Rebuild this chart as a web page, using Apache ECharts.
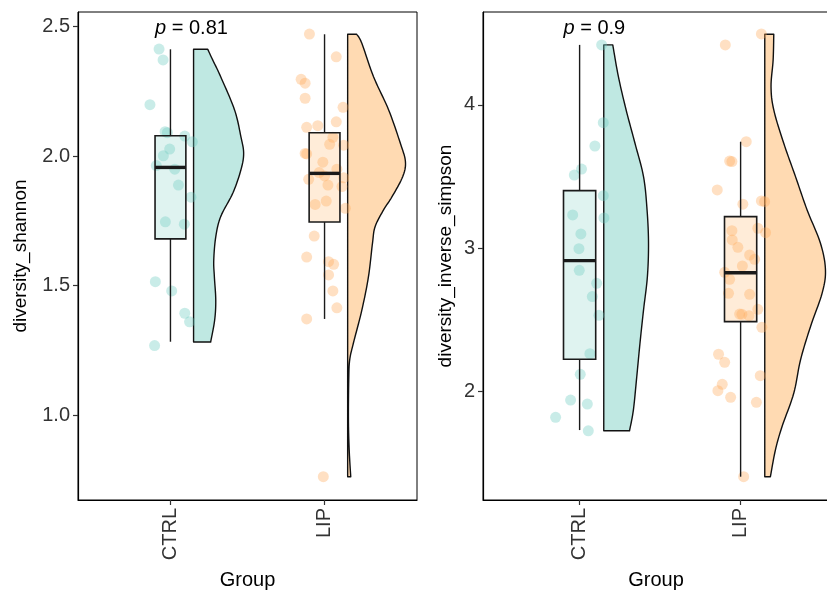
<!DOCTYPE html>
<html><head><meta charset="utf-8">
<script src="https://cdn.jsdelivr.net/npm/echarts@6/dist/echarts.min.js"></script>
<style>html,body{margin:0;padding:0;background:#fff}#c{width:827px;height:591px}</style>
</head><body><div id="c"></div>
<script>
// ---------------- data ----------------
const groups = ['CTRL', 'LIP'];
const metrics = ['diversity_shannon', 'diversity_inverse_simpson'];
const pValues = ['0.81', '0.9'];
const pLabelY = [2.494, 4.538];
const yTicks = [[1.0, 1.5, 2.0, 2.5], [2, 3, 4]];
const yRange = [[0.672, 2.556], [1.238, 4.650]];
const xRange = [[0.4, 2.6], [0.4, 2.549]];

// box stats: [lower whisker, q1, median, q3, upper whisker]
const shannonBoxCTRL = [1.283, 1.680, 1.956, 2.078, 2.412];
const shannonBoxLIP  = [1.371, 1.745, 1.933, 2.090, 2.470];
const simpsonBoxCTRL = [1.727, 2.222, 2.912, 3.401, 4.420];
const simpsonBoxLIP  = [1.401, 2.485, 2.827, 3.219, 3.743];

// half-violin density outline: [value, density width]
const shannonViolinCTRL = [[2.412,0.092],[2.371,0.124],[2.306,0.176],[2.178,0.266],[2.075,0.307],[2.010,0.325],[1.946,0.307],[1.857,0.255],[1.766,0.176],[1.688,0.144],[1.598,0.131],[1.534,0.135],[1.444,0.144],[1.367,0.137],[1.282,0.111]];
const shannonViolinLIP = [[2.470,0.059],[2.435,0.092],[2.306,0.168],[2.178,0.266],[2.049,0.342],[1.978,0.375],[1.920,0.357],[1.843,0.288],[1.792,0.233],[1.727,0.178],[1.663,0.161],[1.534,0.135],[1.405,0.092],[1.277,0.037],[1.212,0.013],[1.135,0.007],[0.981,0.005],[0.865,0.010],[0.762,0.020]];
const simpsonViolinCTRL = [[4.420,0.056],[4.198,0.091],[3.965,0.139],[3.732,0.194],[3.499,0.247],[3.266,0.269],[3.033,0.278],[2.799,0.271],[2.566,0.247],[2.334,0.225],[2.100,0.205],[1.867,0.184],[1.722,0.160]];
const simpsonViolinLIP = [[4.494,0.056],[4.315,0.052],[4.128,0.039],[3.965,0.056],[3.732,0.118],[3.499,0.191],[3.266,0.263],[3.033,0.346],[2.846,0.377],[2.683,0.356],[2.450,0.284],[2.217,0.222],[1.984,0.180],[1.750,0.107],[1.587,0.066],[1.401,0.035]];

// jittered samples: [jitter offset, value]
const shannonPointsCTRL = [[-0.074,2.413],[-0.048,2.371],[-0.133,2.198],[-0.035,2.094],[-0.020,2.090],[0.093,2.077],[0.142,2.055],[-0.005,2.027],[-0.046,2.001],[-0.092,1.963],[0.028,1.949],[0.052,1.888],[0.133,1.841],[-0.033,1.746],[0.090,1.737],[-0.098,1.515],[0.008,1.479],[0.093,1.393],[0.124,1.360],[-0.103,1.268]];
const shannonPointsLIP = [[-0.098,2.471],[0.076,2.383],[-0.152,2.296],[-0.126,2.281],[-0.126,2.223],[0.120,2.188],[0.076,2.132],[-0.116,2.111],[-0.044,2.117],[0.054,2.072],[0.033,2.045],[0.124,2.042],[-0.116,2.008],[-0.126,2.010],[-0.011,1.976],[0.080,1.949],[-0.035,1.936],[0.000,1.923],[-0.103,1.910],[0.124,1.916],[0.022,1.888],[0.113,1.882],[0.011,1.826],[-0.061,1.813],[0.135,1.798],[-0.067,1.691],[-0.116,1.610],[0.026,1.592],[0.059,1.582],[0.026,1.541],[0.054,1.479],[0.080,1.414],[-0.116,1.371],[-0.008,0.762]];
const simpsonPointsCTRL = [[0.137,4.420],[0.147,3.876],[0.095,3.713],[0.012,3.552],[-0.033,3.510],[0.147,3.366],[-0.043,3.231],[0.151,3.210],[0.008,3.098],[-0.004,2.995],[-0.002,2.844],[0.106,2.753],[0.079,2.660],[0.120,2.529],[0.064,2.261],[0.004,2.117],[-0.056,1.937],[0.048,1.909],[-0.149,1.816],[0.054,1.722]];
const simpsonPointsLIP = [[0.129,4.497],[-0.095,4.420],[0.035,3.743],[-0.068,3.608],[-0.054,3.604],[-0.145,3.406],[0.014,3.306],[0.129,3.329],[0.149,3.324],[-0.054,3.121],[0.107,3.138],[0.155,3.107],[-0.052,3.056],[-0.017,3.005],[0.056,2.951],[0.087,2.921],[0.011,2.874],[-0.099,2.830],[-0.068,2.781],[-0.075,2.683],[0.056,2.676],[0.107,2.571],[-0.006,2.538],[0.008,2.536],[0.052,2.527],[0.132,2.445],[-0.137,2.257],[-0.099,2.201],[0.122,2.107],[-0.114,2.047],[-0.141,2.002],[-0.062,1.956],[0.098,1.921],[0.019,1.401]];

// ---------------- styling ----------------
const FONT = 'Liberation Sans, Arial, sans-serif';
const groupColor = { CTRL: [127, 209, 197], LIP: [255, 181, 101] };
const pointColor = { CTRL: [105, 203, 190], LIP: [255, 168, 88] };
const rgba = (c, a) => `rgba(${c[0]},${c[1]},${c[2]},${a})`;
const BOX_HALF = 0.1, VIOLIN_OFFSET = 0.15;

const panels = [
  { box: [shannonBoxCTRL, shannonBoxLIP], violin: [shannonViolinCTRL, shannonViolinLIP], points: [shannonPointsCTRL, shannonPointsLIP] },
  { box: [simpsonBoxCTRL, simpsonBoxLIP], violin: [simpsonViolinCTRL, simpsonViolinLIP], points: [simpsonPointsCTRL, simpsonPointsLIP] }
];

function catmull(pts) {
  const out = [];
  for (let i = 0; i < pts.length - 1; i++) {
    const p0 = pts[i - 1] || pts[i], p1 = pts[i], p2 = pts[i + 1], p3 = pts[i + 2] || pts[i + 1];
    for (let s = 0; s < 10; s++) {
      const t = s / 10, t2 = t * t, t3 = t2 * t;
      const f = k => 0.5 * ((2 * p1[k]) + (-p0[k] + p2[k]) * t + (2 * p0[k] - 5 * p1[k] + 4 * p2[k] - p3[k]) * t2 + (-p0[k] + 3 * p1[k] - 3 * p2[k] + p3[k]) * t3);
      out.push([f(0), f(1)]);
    }
  }
  out.push(pts[pts.length - 1]);
  return out;
}

const grids = [
  { left: 78, top: 12, width: 339, height: 488, outerBoundsMode: 'none', containLabel: false, show: true, borderColor: '#000', borderWidth: 1, backgroundColor: 'transparent' },
  { left: 483, top: 12, width: 346, height: 488, outerBoundsMode: 'none', containLabel: false, show: true, borderColor: '#000', borderWidth: 1, backgroundColor: 'transparent' }
];
const xAxes = [], yAxes = [], series = [];
const nameGapsY = [48, 28];

panels.forEach((panel, pi) => {
  xAxes.push({
    gridIndex: pi, type: 'value', min: xRange[pi][0], max: xRange[pi][1],
    name: 'Group', nameLocation: 'middle', nameGap: 70,
    nameTextStyle: { fontFamily: FONT, fontSize: 20, color: '#000' },
    axisLine: { show: true, onZero: false, lineStyle: { color: '#000', width: 1.2 } },
    axisTick: { show: true, length: 5, customValues: [1, 2], lineStyle: { color: '#333', width: 1.2 } },
    axisLabel: { show: true, customValues: [1, 2], rotate: 90, margin: 8, fontFamily: FONT, fontSize: 20, color: '#333',
      formatter: v => groups[Math.round(v) - 1] || '' },
    splitLine: { show: false }
  });
  yAxes.push({
    gridIndex: pi, type: 'value', min: yRange[pi][0], max: yRange[pi][1],
    name: metrics[pi], nameLocation: 'middle', nameGap: nameGapsY[pi], nameRotate: 90,
    nameTextStyle: { fontFamily: FONT, fontSize: 19, color: '#000' },
    axisLine: { show: true, onZero: false, lineStyle: { color: '#000', width: 1.2 } },
    axisTick: { show: true, length: 5, customValues: yTicks[pi], lineStyle: { color: '#333', width: 1.2 } },
    axisLabel: { show: true, customValues: yTicks[pi], margin: 8, fontFamily: FONT, fontSize: 20, color: '#333',
      formatter: v => pi === 0 ? Number(v).toFixed(1) : String(Math.round(v)) },
    splitLine: { show: false }
  });

  groups.forEach((g, gi) => {
    const cat = gi + 1;
    const dens = panel.violin[gi];
    series.push({
      type: 'custom', xAxisIndex: pi, yAxisIndex: pi, z: 2, silent: true,
      data: dens.map(d => [cat + VIOLIN_OFFSET + d[1], d[0]]),
      renderItem: (params, api) => {
        if (params.dataIndex !== 0) return null;
        const curve = catmull(dens.map(d => api.coord([cat + VIOLIN_OFFSET + d[1], d[0]])));
        const top = api.coord([cat + VIOLIN_OFFSET, dens[0][0]]);
        const bot = api.coord([cat + VIOLIN_OFFSET, dens[dens.length - 1][0]]);
        return {
          type: 'polygon',
          shape: { points: [top].concat(curve, [bot]) },
          style: { fill: rgba(groupColor[g], 0.5), stroke: '#111', lineWidth: 1.4, lineJoin: 'round' }
        };
      }
    });
    series.push({
      type: 'scatter', xAxisIndex: pi, yAxisIndex: pi, z: 3, silent: true,
      symbol: 'circle', symbolSize: 11,
      itemStyle: { color: rgba(pointColor[g], 0.45) },
      data: panel.points[gi].map(p => [cat + p[0], p[1]])
    });
    const b = panel.box[gi];
    series.push({
      type: 'custom', xAxisIndex: pi, yAxisIndex: pi, z: 4, silent: true,
      data: [[cat].concat(b)],
      renderItem: (params, api) => {
        const c = api.value(0);
        const lo = api.coord([c, api.value(1)]), q1 = api.coord([c, api.value(2)]), md = api.coord([c, api.value(3)]);
        const q3 = api.coord([c, api.value(4)]), hi = api.coord([c, api.value(5)]);
        const l = api.coord([c - BOX_HALF, api.value(3)])[0], r = api.coord([c + BOX_HALF, api.value(3)])[0];
        const lineStyle = { stroke: '#1a1a1a', lineWidth: 1.4 };
        return {
          type: 'group',
          children: [
            { type: 'line', shape: { x1: hi[0], y1: hi[1], x2: q3[0], y2: q3[1] }, style: lineStyle },
            { type: 'line', shape: { x1: q1[0], y1: q1[1], x2: lo[0], y2: lo[1] }, style: lineStyle },
            { type: 'rect', shape: { x: l, y: q3[1], width: r - l, height: q1[1] - q3[1] },
              style: { fill: rgba(groupColor[g], 0.25), stroke: '#1a1a1a', lineWidth: 1.6 } },
            { type: 'line', shape: { x1: l, y1: md[1], x2: r, y2: md[1] }, style: { stroke: '#1a1a1a', lineWidth: 3.4 } }
          ]
        };
      }
    });
  });

  // p-value label
  series.push({
    type: 'custom', xAxisIndex: pi, yAxisIndex: pi, z: 5, silent: true,
    data: [[0.9, pLabelY[pi]]],
    renderItem: (params, api) => {
      const p = api.coord([api.value(0), api.value(1)]);
      return {
        type: 'text', x: p[0], y: p[1],
        style: {
          text: '{i|p} = ' + pValues[pi],
          fontFamily: FONT, fontSize: 20, fill: '#000',
          align: 'left', verticalAlign: 'middle',
          rich: { i: { fontStyle: 'italic', fontFamily: FONT, fontSize: 20, fill: '#000' } }
        }
      };
    }
  });
});

const chart = echarts.init(document.getElementById('c'), null, { renderer: 'canvas' });
chart.setOption({
  animation: false,
  backgroundColor: '#fff',
  grid: grids, xAxis: xAxes, yAxis: yAxes, series: series
});
</script>
</body></html>
